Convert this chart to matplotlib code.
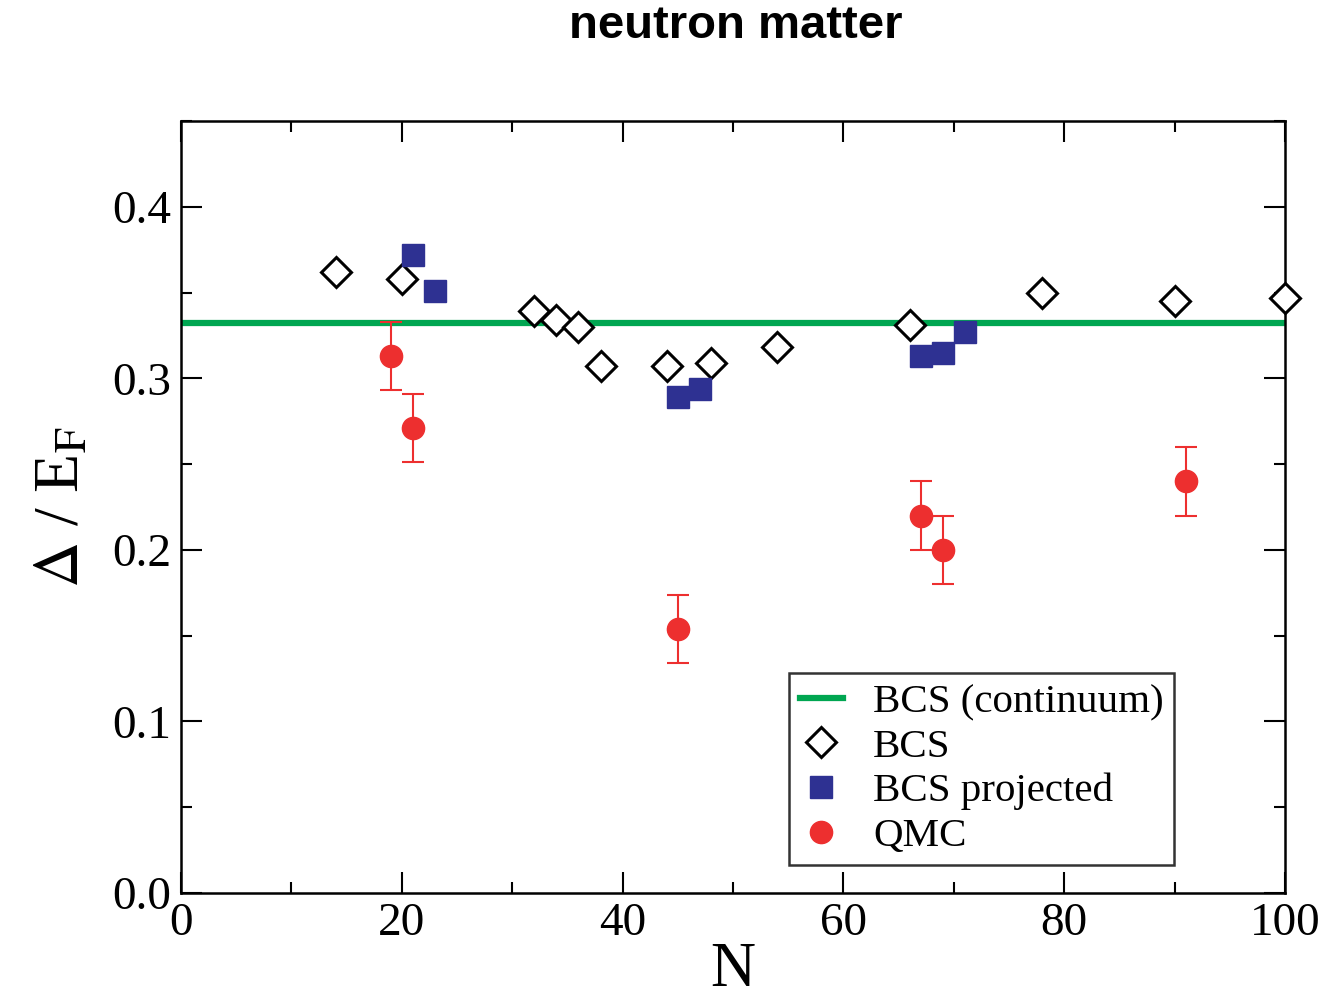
import matplotlib
matplotlib.use('Agg')
import matplotlib.pyplot as plt
from matplotlib.ticker import MultipleLocator, FormatStrFormatter

plt.rcParams['font.family'] = 'Liberation Serif'
plt.rcParams['mathtext.fontset'] = 'stix'

# data
bcs_n = [14, 20, 32, 34, 36, 38, 44, 48, 54, 66, 78, 90, 100]
bcs_gap = [0.362, 0.358, 0.339, 0.334, 0.330, 0.307, 0.307, 0.309, 0.318,
           0.331, 0.350, 0.345, 0.347]

proj_n = [21, 23, 45, 47, 67, 69, 71]
proj_gap = [0.372, 0.351, 0.289, 0.294, 0.313, 0.315, 0.327]
proj_err = [0.003, 0.003, 0.003, 0.003, 0.003, 0.003, 0.003]

qmc_n = [19, 21, 45, 67, 69, 91]
qmc_gap = [0.313, 0.271, 0.154, 0.220, 0.200, 0.240]
qmc_err = [0.02, 0.02, 0.02, 0.02, 0.02, 0.02]

continuum_gap = 0.332

GREEN = '#00a651'
BLUE = '#2e3192'
RED = '#ed2f2f'

fig = plt.figure(figsize=(13.37, 10.06), dpi=100)
ax = fig.add_axes([0.1354, 0.1123, 0.8257, 0.7674])

ax.axhline(continuum_gap, color=GREEN, lw=4.5, label='BCS (continuum)', zorder=1)
ax.plot(bcs_n, bcs_gap, 'D', mfc='white', mec='black', mew=2.2, ms=15,
        label='BCS', zorder=3, clip_on=False)
ax.errorbar(proj_n, proj_gap, yerr=proj_err, fmt='s', color=BLUE, ms=16,
            ecolor=BLUE, elinewidth=1.5, capsize=7, capthick=1.5,
            label='BCS projected', zorder=4)
ax.errorbar(qmc_n, qmc_gap, yerr=qmc_err, fmt='o', color=RED, ms=16,
            ecolor=RED, elinewidth=1.5, capsize=8, capthick=1.5,
            label='QMC', zorder=2)

ax.set_xlim(0, 100)
ax.set_ylim(0, 0.45)
ax.xaxis.set_major_locator(MultipleLocator(20))
ax.xaxis.set_minor_locator(MultipleLocator(10))
ax.yaxis.set_major_locator(MultipleLocator(0.1))
ax.yaxis.set_minor_locator(MultipleLocator(0.05))
ax.yaxis.set_major_formatter(FormatStrFormatter('%.1f'))
ax.tick_params(which='both', direction='in', top=True, right=True,
               width=1.5, labelsize=34)
ax.tick_params(which='major', length=15, pad=7)
ax.tick_params(which='minor', length=8)
for s in ax.spines.values():
    s.set_linewidth(1.8)

ax.set_xlabel('N', fontsize=45, labelpad=-2)
ax.set_ylabel(r'$\Delta$ / E$_\mathrm{F}$', fontsize=46, labelpad=14)

fig.text(0.5505, 0.974, 'neutron matter', ha='center', va='center',
         fontsize=34, fontweight='bold', family='Liberation Sans')

handles, labels = ax.get_legend_handles_labels()
handles = [h[0] if hasattr(h, 'lines') else h for h in handles]
leg = ax.legend(handles, labels, loc='upper left', bbox_to_anchor=(0.551, 0.285),
                fontsize=29.5, frameon=True, fancybox=False, edgecolor='black',
                handlelength=1.05, handletextpad=0.75, labelspacing=0.17,
                borderpad=0.25, borderaxespad=0)
leg.get_frame().set_linewidth(1.8)

fig.savefig('out.png', dpi=100)
